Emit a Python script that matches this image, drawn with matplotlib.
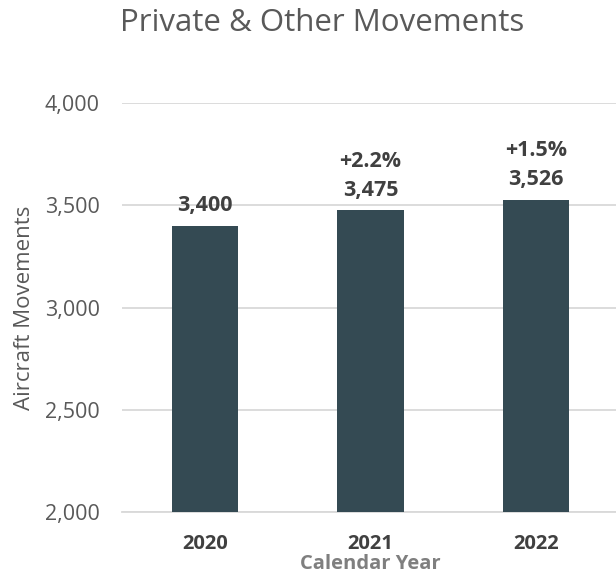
import matplotlib.pyplot as plt
from matplotlib.ticker import FuncFormatter

# donnees
annees = ["2020", "2021", "2022"]
mouvements = [3400, 3475, 3526]
variations = ["", "+2.2%", "+1.5%"]

plt.rcParams['font.family'] = ['Open Sans', 'DejaVu Sans']

fig = plt.figure(figsize=(6.16, 5.79), dpi=100)
ax = fig.add_axes([0.198, 0.1157, 0.807, 0.7064])

x = range(len(annees))
ax.bar(x, mouvements, width=0.4, color="#344A53", zorder=3)

ax.set_ylim(2000, 4000)
ax.set_xlim(-0.5, 2.5)
ax.set_yticks([2000, 2500, 3000, 3500, 4000])
ax.yaxis.set_major_formatter(FuncFormatter(lambda v, p: f"{int(v):,}"))
ax.grid(axis="y", color="#d9d9d9", linewidth=1.3, zorder=0)
ax.set_axisbelow(True)

for s in ["top", "right", "left"]:
    ax.spines[s].set_visible(False)
ax.spines["bottom"].set_color("#d9d9d9")
ax.spines["bottom"].set_linewidth(1.3)

ax.set_xticks(list(x))
ax.set_xticklabels(annees, fontsize=14.5, fontweight="bold", color="#404040")
ax.tick_params(axis="x", length=0, pad=16)
ax.tick_params(axis="y", length=0, pad=16, labelsize=15.5, labelcolor="#595959")

# etiquettes au-dessus des barres
for i, (v, var) in enumerate(zip(mouvements, variations)):
    txt = f"{v:,}" if var == "" else f"{var}\n{v:,}"
    ax.annotate(txt, (i, v), xytext=(0, 7), textcoords="offset points",
                ha="center", va="bottom", fontsize=15.5, fontweight="bold",
                color="#404040", linespacing=1.5)

ax.set_xlabel("Calendar Year", fontsize=14.5, fontweight="bold", color="#7f7f7f", labelpad=0)
ax.set_ylabel("Aircraft Movements", fontsize=16, color="#595959", labelpad=7)
fig.text(0.523, 0.96, "Private & Other Movements", fontsize=22.5, color="#595959",
         ha="center", va="center")

plt.savefig("out.png")
